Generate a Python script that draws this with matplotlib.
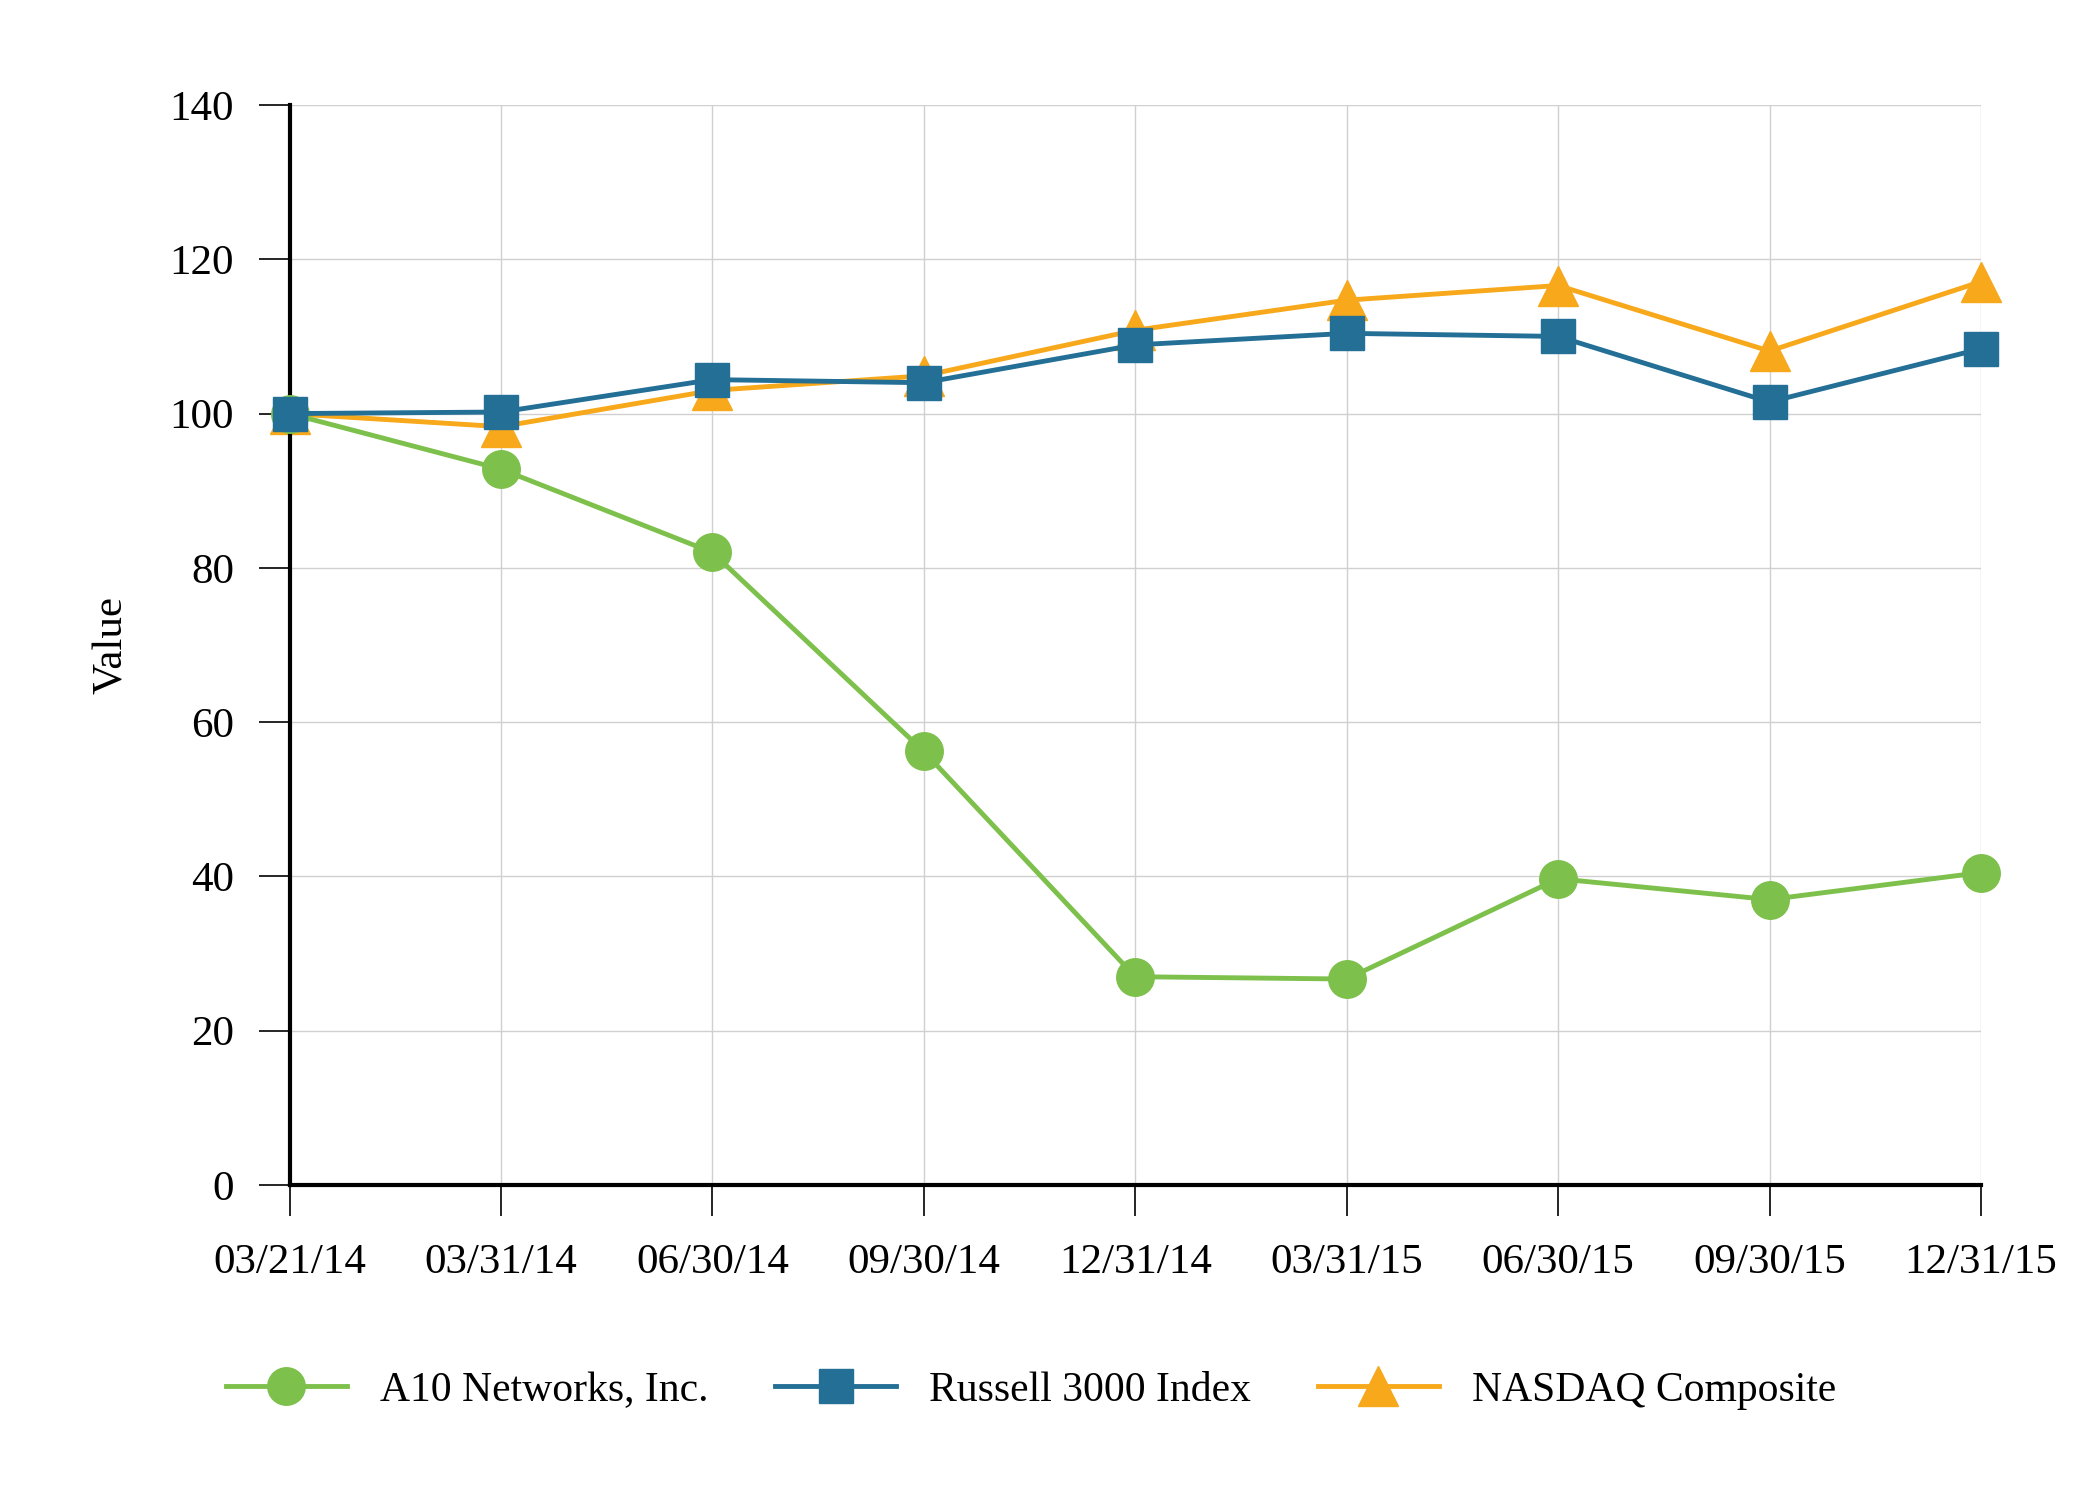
import matplotlib.pyplot as plt

dates = ["03/21/14", "03/31/14", "06/30/14", "09/30/14", "12/31/14",
         "03/31/15", "06/30/15", "09/30/15", "12/31/15"]

a10_values = [100, 92.8, 82.0, 56.2, 27.0, 26.7, 39.7, 37.0, 40.5]
russell_values = [100, 100.2, 104.4, 104.0, 108.9, 110.4, 110.0, 101.5, 108.4]
nasdaq_values = [100, 98.3, 103.0, 104.9, 110.8, 114.7, 116.6, 108.1, 117.1]

green = "#7dc04b"
blue = "#236f96"
orange = "#f7a81b"

plt.rcParams['font.family'] = ['Liberation Serif', 'DejaVu Serif']

fig = plt.figure(figsize=(20.83, 15), dpi=100)
ax = fig.add_axes([0.139, 0.21, 0.812, 0.72])

x = list(range(len(dates)))
ax.plot(x, a10_values, '-o', color=green, lw=3.5, ms=27, label='A10 Networks, Inc.',
        zorder=3, clip_on=False)
ax.plot(x, russell_values, '-s', color=blue, lw=3.5, ms=25, label='Russell 3000 Index',
        zorder=4, clip_on=False)
ax.plot(x, nasdaq_values, '-^', color=orange, lw=3.5, ms=29, label='NASDAQ Composite',
        zorder=2, clip_on=False)

ax.set_xlim(0, len(dates) - 1)
ax.set_ylim(0, 140)
ax.set_yticks(range(0, 141, 20))
ax.set_xticks(x)
ax.set_xticklabels(dates)
ax.grid(True, color='#d0d0d0', lw=1)
ax.set_axisbelow(True)

for side in ['top', 'right']:
    ax.spines[side].set_visible(False)
ax.spines['left'].set_linewidth(3)
ax.spines['bottom'].set_linewidth(3)

ax.tick_params(axis='both', labelsize=31, length=22, width=1.2, direction='out')
ax.tick_params(axis='x', pad=20)
ax.tick_params(axis='y', pad=18)
ax.set_ylabel("Value", fontsize=31, labelpad=28)

fig.legend(loc='lower center', bbox_to_anchor=(0.495, 0.035), ncol=3, frameon=False,
           fontsize=30, handlelength=2.9, columnspacing=1.6, handletextpad=0.8)

fig.savefig("out.png", dpi=100)
